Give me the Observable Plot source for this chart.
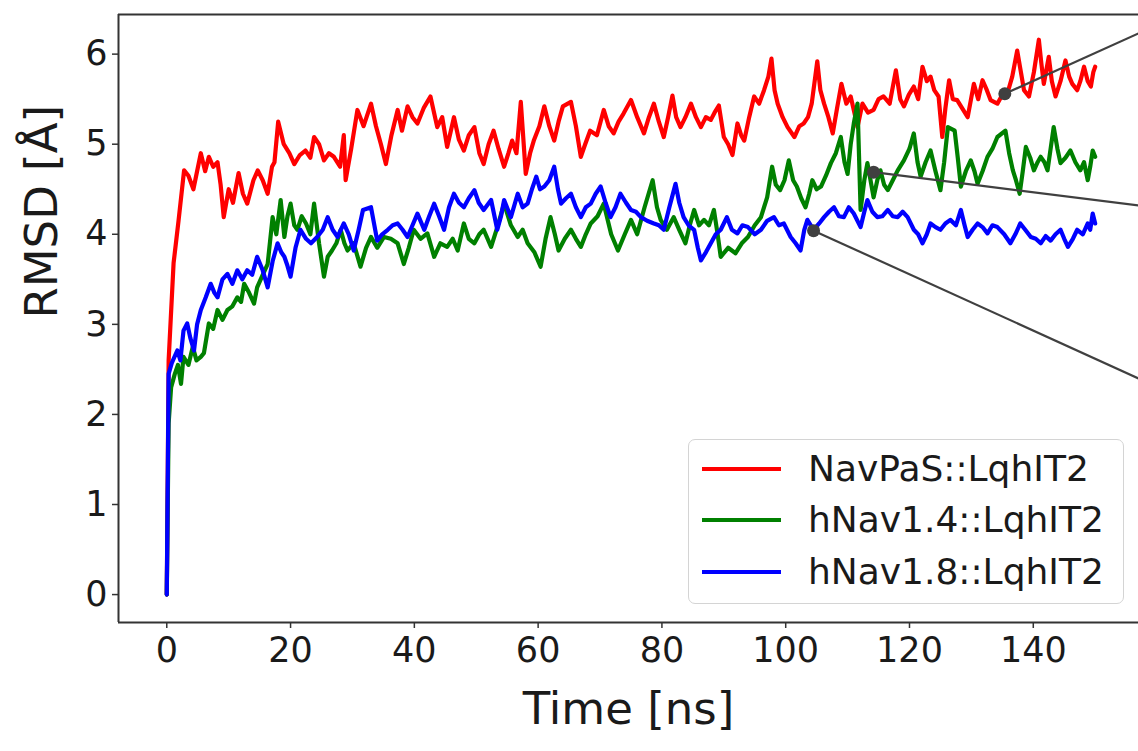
<!DOCTYPE html>
<html><head><meta charset="utf-8">
<script src="https://cdn.jsdelivr.net/npm/d3@7"></script>
<script src="https://cdn.jsdelivr.net/npm/@observablehq/plot@0.6"></script>
<style>
html,body{margin:0;padding:0;background:#fff;overflow:hidden;}
#wrap{position:relative;width:1138px;height:751px;overflow:hidden;font-family:"DejaVu Sans",sans-serif;}
.legend{position:absolute;left:688px;top:439px;width:436px;height:165px;border:1.5px solid #d4d4d4;border-radius:7px;background:rgba(255,255,255,0.85);box-sizing:border-box;}
.row{position:absolute;left:0;height:0;}
.sw{position:absolute;left:13px;width:79px;height:4px;top:-2px;}
.lb{position:absolute;left:119px;top:-22px;font-size:36px;line-height:44px;color:#1a1a1a;white-space:nowrap;}
</style></head>
<body><div id="wrap"></div>
<script>
// ---- data ----
const seriesNames = ["NavPaS::LqhIT2", "hNav1.4::LqhIT2", "hNav1.8::LqhIT2"];
const seriesColors = ["#ff0000", "#008000", "#0000ff"];
const xTicks = [0, 20, 40, 60, 80, 100, 120, 140];
const yTicks = [0, 1, 2, 3, 4, 5, 6];
const xLabel = "Time [ns]";
const yLabel = "RMSD [Å]";

const timeNavPaS = [0,0.3,1.1,1.9,2.8,3.5,4.3,5.5,6.2,6.8,7.5,8.2,8.7,9.2,10.0,10.7,11.6,12.3,13.0,14.0,14.7,15.5,16.3,17.0,17.4,18.0,18.9,19.8,20.6,21.5,22.4,23.2,23.8,24.6,25.4,26.2,27.0,28.0,28.6,28.9,29.8,30.8,31.8,33.0,33.8,34.6,35.4,36.3,37.3,38.0,38.9,39.7,40.5,41.5,42.6,43.7,44.5,45.3,46.4,47.2,48.0,48.8,49.7,50.5,51.2,52.0,52.8,53.6,54.5,55.2,55.8,56.5,57.2,58.0,58.7,59.3,60.2,61.0,61.8,62.6,63.3,64.0,65.3,66.1,66.9,67.6,68.4,69.5,70.6,71.4,72.2,73.0,73.8,75.0,76.0,77.1,77.9,78.7,79.5,80.3,81.0,81.7,82.3,83.0,83.8,84.7,85.5,86.3,87.1,87.9,88.5,89.2,90.0,90.7,91.4,92.2,92.8,93.3,94.1,94.9,95.7,96.5,97.2,97.7,98.2,98.7,99.5,100.3,101.4,102.2,102.9,103.6,104.2,105.1,105.6,106.2,106.9,107.6,108.3,109.0,109.8,110.5,111.1,111.6,112.4,113.3,114.2,115.0,115.8,116.8,117.8,118.5,119.1,119.9,120.7,121.4,122.1,122.8,123.4,124.0,124.7,125.3,125.8,126.4,127.0,127.7,128.5,129.4,130.4,131.1,131.8,132.5,133.1,134.2,135.0,135.8,136.6,137.4,138.0,138.5,139.3,140.1,140.9,141.3,141.7,142.5,143.0,143.6,144.4,145.2,145.8,146.3,147.1,147.6,148.2,148.8,149.3,149.7,150.0];
const rmsdNavPaS = [0,2.6,3.68,4.15,4.71,4.65,4.5,4.9,4.7,4.86,4.75,4.8,4.55,4.19,4.5,4.35,4.68,4.45,4.34,4.6,4.71,4.6,4.45,4.75,4.8,5.25,5.0,4.9,4.78,4.88,4.93,4.85,5.08,5.0,4.82,4.9,4.86,4.75,5.1,4.6,4.95,5.38,5.2,5.45,5.2,5.0,4.78,5.1,5.38,5.15,5.42,5.3,5.23,5.4,5.53,5.19,5.3,4.97,5.3,5.05,4.93,5.1,5.19,4.9,4.78,5.0,5.15,4.95,4.75,4.9,5.04,4.9,5.47,4.67,4.9,5.04,5.2,5.42,5.2,5.04,5.25,5.42,5.47,5.2,4.86,5.0,5.15,5.1,5.38,5.2,5.12,5.25,5.34,5.49,5.3,5.12,5.3,5.45,5.25,5.08,5.3,5.54,5.3,5.19,5.3,5.45,5.3,5.19,5.3,5.27,5.35,5.43,5.08,5.0,4.88,5.23,5.1,5.04,5.3,5.53,5.45,5.6,5.75,5.95,5.6,5.45,5.3,5.19,5.08,5.2,5.23,5.3,5.45,5.92,5.6,5.45,5.3,5.12,5.4,5.67,5.45,5.53,5.35,5.19,5.45,5.35,5.38,5.5,5.53,5.45,5.82,5.5,5.42,5.55,5.64,5.5,5.86,5.7,5.75,5.6,5.53,5.08,5.4,5.71,5.5,5.49,5.4,5.3,5.67,5.5,5.71,5.6,5.49,5.45,5.55,5.56,5.75,6.04,5.8,5.6,5.53,5.8,6.16,5.9,5.67,5.97,5.7,5.53,5.7,5.93,5.75,5.67,5.6,5.7,5.86,5.7,5.64,5.8,5.86];

const timeNav14 = [0,0.3,0.7,1.3,1.8,2.3,2.7,3.5,4.2,4.8,5.5,6.0,6.8,7.5,8.2,9.0,9.8,10.6,11.4,12.0,12.5,13.3,14.1,14.6,15.5,16.3,17.1,17.7,18.4,19.0,19.5,20.0,20.6,21.1,21.8,22.5,23.2,23.8,24.6,25.4,26.0,26.7,27.4,28.1,28.7,29.2,30.2,31.3,32.2,33.0,34.0,35.1,36.2,37.3,38.3,39.1,39.9,41.0,42.1,43.2,44.2,45.3,46.2,47.0,48.0,48.8,49.7,50.5,51.2,52.4,53.5,54.5,55.6,56.7,57.5,58.3,59.4,60.4,61.2,62.0,62.7,63.3,64.3,65.3,66.1,66.9,67.7,68.5,69.6,70.6,71.8,72.9,74.0,75.0,76.0,77.2,78.5,79.2,79.8,80.8,81.9,82.8,83.8,84.5,85.2,86.0,86.8,87.6,88.4,89.0,89.5,90.7,91.9,92.9,93.9,95.0,96.0,97.0,97.8,98.4,99.1,99.8,100.5,101.2,101.8,102.5,103.2,103.8,104.3,105.0,105.7,106.5,107.3,108.1,108.9,109.5,110.0,110.5,111.0,111.6,112.1,112.7,113.2,113.7,114.2,114.8,115.3,115.9,116.5,117.3,118.1,119.1,120.0,120.7,121.3,121.8,122.6,123.4,124.2,125.0,125.6,126.2,127.3,127.8,128.3,129.1,129.9,130.5,131.0,131.8,132.6,133.4,134.2,135.5,136.1,136.7,137.2,137.8,138.3,138.8,139.5,140.1,140.7,141.2,141.8,142.3,142.8,143.3,143.9,144.4,145.2,146.0,146.8,147.6,148.2,148.8,149.2,149.6,150.0];
const rmsdNav14 = [0,1.9,2.3,2.45,2.55,2.34,2.64,2.55,2.75,2.6,2.64,2.68,3.01,2.95,3.16,3.05,3.16,3.2,3.3,3.25,3.45,3.35,3.23,3.41,3.55,3.67,4.19,4.0,4.38,3.97,4.2,4.34,4.1,4.05,4.2,4.12,4.0,4.34,3.9,3.53,3.75,3.82,3.9,4.05,3.9,3.82,3.9,3.64,3.85,3.97,3.85,3.97,3.95,3.9,3.67,3.85,4.05,3.95,4.01,3.75,3.9,3.86,3.95,3.82,4.12,3.95,3.9,4.0,4.05,3.86,4.1,4.34,4.1,3.97,4.05,3.9,3.8,3.64,3.95,4.19,4.0,3.82,3.95,4.05,3.95,3.86,4.0,4.12,4.2,4.34,4.0,3.82,4.0,4.16,4.0,4.3,4.6,4.3,4.16,4.05,4.19,4.05,3.9,4.1,4.27,4.1,4.16,4.1,4.27,4.0,3.75,3.85,3.79,3.9,3.97,4.1,4.19,4.41,4.75,4.55,4.49,4.6,4.82,4.6,4.53,4.4,4.3,4.45,4.6,4.5,4.53,4.65,4.79,4.9,5.08,4.8,4.67,5.0,5.23,5.45,4.27,4.6,4.79,4.6,4.41,4.6,4.71,4.55,4.49,4.6,4.71,4.82,4.95,5.12,4.8,4.64,4.8,4.93,4.7,4.49,4.8,5.19,5.15,4.85,4.53,4.7,4.82,4.7,4.56,4.7,4.86,4.95,5.08,5.15,4.9,4.71,4.6,4.45,4.7,4.97,4.85,4.71,4.8,4.86,4.8,4.71,4.95,5.19,4.95,4.79,4.85,4.93,4.8,4.71,4.8,4.6,4.75,4.93,4.86];

const timeNav18 = [0,0.3,0.8,1.7,2.2,2.7,3.3,3.8,4.4,4.9,5.5,6.3,7.1,7.7,8.2,9.0,9.8,10.6,11.4,12.2,13.0,13.8,14.6,15.5,16.3,17.1,17.9,18.5,19.0,19.5,20.0,20.8,21.6,22.5,23.3,24.3,25.2,26.0,26.8,27.6,28.6,29.4,30.2,31.0,31.7,33.0,34.0,34.8,35.7,36.5,37.3,38.1,38.9,39.7,40.5,41.6,42.4,43.2,44.0,44.8,45.6,46.4,47.2,48.0,48.8,49.7,50.4,51.2,52.4,53.4,54.0,54.5,55.6,56.7,57.5,58.3,59.0,59.7,60.3,61.0,61.8,62.6,63.2,63.7,64.5,65.3,66.1,66.9,67.7,68.5,69.3,70.1,70.9,71.7,72.5,73.3,74.2,75.0,75.8,76.6,77.6,78.7,79.5,80.3,81.2,82.2,82.8,83.5,84.3,85.2,85.8,86.3,87.1,87.9,88.7,89.5,90.5,91.3,92.2,93.0,93.9,95.0,96.0,97.0,98.1,98.9,99.7,100.8,101.6,102.4,103.0,103.5,104.5,105.4,106.2,107.0,107.8,108.6,109.4,110.2,111.0,112.1,112.7,113.2,114.0,114.8,115.6,116.5,117.3,118.1,118.9,119.7,120.7,121.4,122.1,122.8,123.4,124.2,125.0,125.8,126.6,127.5,128.3,128.9,129.4,130.2,131.0,131.8,132.6,133.4,134.2,135.3,136.3,137.1,137.9,138.7,139.6,140.4,141.2,142.0,142.8,143.6,144.4,145.0,145.6,146.4,147.1,148.0,148.8,149.2,149.6,150.0];
const rmsdNav18 = [0,2.45,2.57,2.71,2.6,2.93,3.01,2.85,2.71,3.0,3.16,3.3,3.45,3.35,3.3,3.5,3.56,3.45,3.6,3.5,3.6,3.55,3.75,3.6,3.41,3.7,3.9,3.8,3.75,3.65,3.53,3.85,4.05,3.95,3.9,3.97,4.05,4.19,4.05,3.97,4.12,4.0,3.82,4.05,4.27,4.3,3.93,4.0,4.05,4.1,4.12,4.05,3.97,4.1,4.23,4.05,4.2,4.34,4.2,4.05,4.3,4.45,4.35,4.3,4.4,4.49,4.35,4.27,4.38,4.05,4.2,4.38,4.19,4.45,4.3,4.34,4.5,4.64,4.5,4.53,4.6,4.75,4.5,4.34,4.4,4.45,4.3,4.19,4.3,4.34,4.45,4.53,4.35,4.19,4.3,4.45,4.35,4.27,4.25,4.19,4.15,4.12,4.1,4.05,4.3,4.56,4.35,4.19,4.1,4.05,3.85,3.71,3.8,3.9,4.0,4.05,4.19,4.05,4.01,4.1,4.08,4.0,4.05,4.15,4.19,4.1,4.12,3.97,3.9,3.82,4.05,4.16,4.05,4.12,4.19,4.25,4.3,4.2,4.19,4.3,4.23,4.08,4.25,4.38,4.25,4.19,4.2,4.27,4.2,4.19,4.25,4.19,4.05,4.0,3.9,4.0,4.12,4.08,4.05,4.12,4.16,4.1,4.27,4.1,3.97,4.05,4.12,4.08,4.01,4.1,4.08,4.0,3.9,4.0,4.12,4.05,3.97,3.95,3.9,3.98,3.93,4.0,4.05,3.95,3.86,3.95,4.05,4.0,4.12,4.05,4.23,4.12];

// annotation markers (data coords of dots and where their leader lines leave the picture)
const annotX = [135.4, 114.2, 104.5];
const annotY = [5.56, 4.69, 4.04];
const annotEndX = [157, 157, 157];
const annotEndY = [6.23, 4.32, 2.40];

// ---- build tables ----
const times = [timeNavPaS, timeNav14, timeNav18];
const vals = [rmsdNavPaS, rmsdNav14, rmsdNav18];
const rows = [];
seriesNames.forEach((name, i) => {
  times[i].forEach((t, j) => rows.push({series: name, t, v: vals[i][j]}));
});
const annots = annotX.map((x, i) => ({x1: x, y1: annotY[i], x2: annotEndX[i], y2: annotEndY[i]}));

const xDomain = [-7.8, 157];
const yDomain = [-0.31, 6.44];
const ink = "#333333";

const chart = Plot.plot({
  width: 1138, height: 751,
  marginLeft: 118, marginRight: 0, marginTop: 14, marginBottom: 129,
  style: {fontFamily: "DejaVu Sans", fontSize: "35px", background: "white", overflow: "visible", color: "#1a1a1a"},
  x: {domain: xDomain},
  y: {domain: yDomain},
  color: {domain: seriesNames, range: seriesColors},
  marks: [
    Plot.axisX({ticks: xTicks, tickFormat: d3.format("d"), tickSize: 6, tickPadding: 9, fontSize: 35, label: null, stroke: ink, strokeWidth: 1.5}),
    Plot.axisY({ticks: yTicks, tickFormat: d3.format("d"), tickSize: 6, tickPadding: 5, fontSize: 35, label: null, stroke: ink, strokeWidth: 1.5}),
    Plot.line(rows, {x: "t", y: "v", z: "series", stroke: "series", strokeWidth: 4.2, strokeLinejoin: "round", strokeLinecap: "round"}),
    Plot.ruleY([yDomain[1]], {stroke: ink, strokeWidth: 2}),
    Plot.ruleY([yDomain[0]], {stroke: ink, strokeWidth: 2}),
    Plot.ruleX([xDomain[0]], {stroke: ink, strokeWidth: 2}),
    Plot.link(annots, {x1: "x1", y1: "y1", x2: "x2", y2: "y2", stroke: "#404040", strokeWidth: 2.2}),
    Plot.dot(annots, {x: "x1", y: "y1", r: 6.5, fill: "#404040", stroke: "none"}),
    Plot.text([xLabel], {frameAnchor: "bottom", dy: 101, fontSize: 45, fill: "#1a1a1a"}),
    Plot.text([yLabel], {frameAnchor: "left", dx: -76, rotate: -90, fontSize: 45, fill: "#1a1a1a"})
  ]
});

const wrap = document.getElementById("wrap");
wrap.appendChild(chart);

// legend (HTML, placed inside plot area as in the reference)
const leg = document.createElement("div");
leg.className = "legend";
const rowTops = [29, 80, 132];
seriesNames.forEach((name, i) => {
  const r = document.createElement("div");
  r.className = "row";
  r.style.top = rowTops[i] + "px";
  const sw = document.createElement("div");
  sw.className = "sw";
  sw.style.background = seriesColors[i];
  const lb = document.createElement("div");
  lb.className = "lb";
  lb.textContent = name;
  r.appendChild(sw); r.appendChild(lb);
  leg.appendChild(r);
});
wrap.appendChild(leg);
</script>
</body></html>
